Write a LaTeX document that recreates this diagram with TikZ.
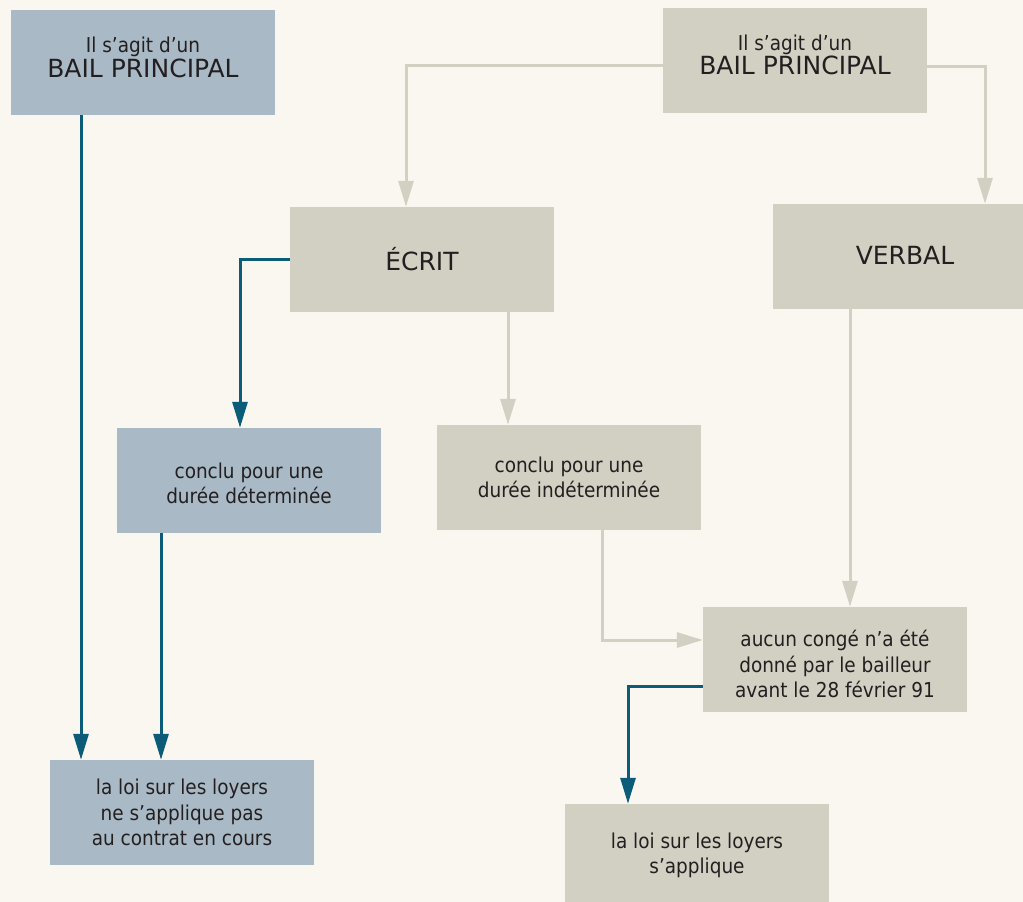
\documentclass[tikz,border=0pt]{standalone}
\usepackage{fontspec}
\setmainfont{DejaVu Sans Condensed}
\newfontfamily\bigf{DejaVu Sans}
\usetikzlibrary{arrows.meta,calc}
\definecolor{bgc}{HTML}{F9F7EF}
\definecolor{bluebox}{HTML}{A9BAC6}
\definecolor{greybox}{HTML}{D2D0C3}
\definecolor{blueline}{HTML}{0B5C78}
\definecolor{greyline}{HTML}{D2D0C3}
\definecolor{txt}{HTML}{231F20}
\tikzset{
  box/.style={rectangle, minimum width=264pt, minimum height=105pt, inner sep=0pt},
  bbox/.style={box, fill=bluebox},
  gbox/.style={box, fill=greybox},
  tx/.style={align=center, text=txt, inner sep=0pt, font=\fontsize{20.5}{25.5}\selectfont},
  btx/.style={align=center, text=txt, inner sep=0pt, font=\bigf\fontsize{25}{28}\selectfont},
  barr/.style={draw=blueline, line width=3pt, -{Triangle[width=15pt,length=26pt]}},
  garr/.style={draw=greyline, line width=3pt, -{Triangle[width=15pt,length=26pt]}},
}
\newcommand{\bigtxt}[1]{{\bigf\fontsize{25}{28}\selectfont #1}}
\begin{document}
\begin{tikzpicture}[x=1pt,y=-1pt]
\fill[bgc] (0,0) rectangle (1023,902);
\useasboundingbox (0,0) rectangle (1023,902);
\node[bbox, label={[tx, yshift=5pt]center:{Il s’agit d’un\\[-1pt]\bigtxt{BAIL PRINCIPAL}}}] (bail1) at (143,62.5) {};
\node[gbox, label={[tx, yshift=5pt]center:{Il s’agit d’un\\[-1pt]\bigtxt{BAIL PRINCIPAL}}}] (bail2) at (795,60) {};
\node[gbox, label={[btx]center:{ÉCRIT}}] (ecrit) at (422,259.5) {};
\node[gbox, label={[btx, yshift=1.5pt]center:{VERBAL}}] (verbal) at (905,256.5) {};
\node[bbox, label={[tx, yshift=-3pt]center:{conclu pour une\\durée déterminée}}] (det) at (249,480.5) {};
\node[gbox, label={[tx]center:{conclu pour une\\durée indéterminée}}] (indet) at (569,477.5) {};
\node[gbox, label={[tx, yshift=-4.5pt]center:{aucun congé n’a été\\donné par le bailleur\\avant le 28 février 91}}] (aucun) at (835,659.5) {};
\node[bbox, label={[tx]center:{la loi sur les loyers\\ne s’applique pas\\au contrat en cours}}] (nope) at (182,812.5) {};
\node[gbox, label={[tx, yshift=1pt]center:{la loi sur les loyers\\s’applique}}] (loi2) at (697,856.5) {};
% helper points
\coordinate (b1s) at ([xshift=-62pt]bail1.south);
\coordinate (dets) at ([xshift=-88pt]det.south);
\coordinate (ecs) at ([xshift=86pt]ecrit.south);
\coordinate (vbs) at ([xshift=-55pt]verbal.south);
% blue connectors
\draw[barr] (b1s) -- (b1s |- nope.north);
\draw[barr] (ecrit.west) -| ([xshift=-9pt]det.north);
\draw[barr] (dets) -- (dets |- nope.north);
\draw[barr] ([yshift=-26.5pt]aucun.west) -| ([xshift=-69pt]loi2.north);
% grey connectors
\draw[garr] ([yshift=-5pt]bail2.west) -| ([xshift=-16pt]ecrit.north);
\draw[garr] ([yshift=-6pt]bail2.east) -| ([xshift=80pt]verbal.north);
\draw[garr] (ecs) -- (ecs |- indet.north);
\draw[garr] (vbs) -- (vbs |- aucun.north);
\draw[garr] ([xshift=33pt]indet.south) |- ([yshift=19.5pt]aucun.west);
\end{tikzpicture}
\end{document}
